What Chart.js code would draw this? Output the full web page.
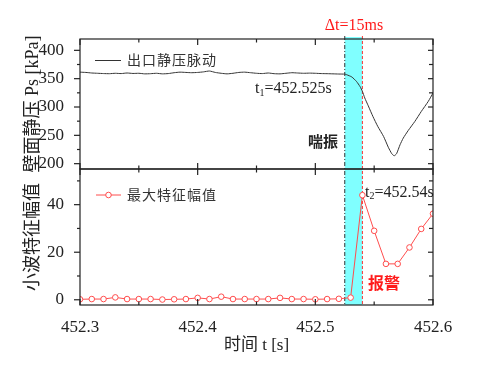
<!DOCTYPE html>
<html>
<head>
    <title>喘振报警</title>
    <script src="https://cdn.jsdelivr.net/npm/chart.js"></script>
    <style>
        body { margin: 0; background: #fff; }
    </style>
</head>
<body>
    <canvas id="surgeChart" width="500" height="367"></canvas>

    <script>
        // wall static pressure (top panel)
        const psTime = [
            452.300, 452.305, 452.310, 452.315, 452.320, 452.325, 452.330, 452.335, 452.340, 452.345,
            452.350, 452.355, 452.360, 452.365, 452.370, 452.375, 452.380, 452.385, 452.390, 452.395,
            452.400, 452.405, 452.410, 452.415, 452.420, 452.425, 452.430, 452.435, 452.440, 452.445,
            452.450, 452.455, 452.460, 452.465, 452.470, 452.475, 452.480, 452.485, 452.490, 452.495,
            452.500, 452.505, 452.510, 452.515, 452.520, 452.525,
            452.5266, 452.531, 452.535, 452.538, 452.540, 452.542, 452.545, 452.549, 452.553, 452.558,
            452.562, 452.5635, 452.565, 452.567, 452.569, 452.572, 452.5747, 452.579, 452.5846, 452.590,
            452.596, 452.600
        ];
        const psValue = [
            361.5, 361.0, 360.0, 359.5, 359.0, 358.8, 359.5, 359.0, 360.0, 359.2,
            359.5, 358.5, 358.8, 359.5, 358.5, 359.0, 360.5, 361.5, 361.0, 360.5,
            361.0, 362.0, 363.5, 361.0, 359.5, 358.5, 359.5, 361.0, 361.5, 360.5,
            359.5, 359.0, 360.0, 358.8, 358.5, 359.5, 360.5, 360.0, 359.5, 359.8,
            359.5, 359.0, 358.8, 358.5, 358.2, 358.0,
            357.0, 353.0, 345.0, 336.0, 327.6, 316.0, 302.0, 283.0, 266.0, 248.0,
            229.0, 223.0, 217.5, 214.0, 217.5, 233.4, 245.0, 258.7, 274.6, 292.0,
            310.0, 324.7
        ];

        // wavelet max feature amplitude (bottom panel)
        const ampTime = [
            452.30, 452.31, 452.32, 452.33, 452.34, 452.35, 452.36, 452.37, 452.38, 452.39,
            452.40, 452.41, 452.42, 452.43, 452.44, 452.45, 452.46, 452.47, 452.48, 452.49,
            452.50, 452.51, 452.52, 452.53, 452.54, 452.55, 452.56, 452.57, 452.58, 452.59,
            452.60
        ];
        const ampValue = [
            0.2, 0.3, 0.3, 1.0, 0.3, 0.3, 0.3, 0.1, 0.2, 0.3,
            0.8, 0.3, 1.3, 0.3, 0.3, 0.3, 0.3, 0.8, 0.3, 0.3,
            0.2, 0.3, 0.4, 0.9, 44.0, 29.0, 15.1, 15.1, 22.0, 29.8,
            36.2
        ];

        const xTicks = [452.3, 452.4, 452.5, 452.6];
        const xMinor = [452.35, 452.45, 452.55];
        const psTicks = [200, 250, 300, 350, 400];
        const psMinor = [225, 275, 325, 375];
        const ampTicks = [0, 20, 40];
        const ampMinor = [10, 30, 50];

        const surgeStart = 452.525;   // t1
        const alarmTime = 452.54;     // t2

        const SERIF = '"Liberation Serif", "Noto Sans CJK SC", serif';
        const CJK = '"Noto Sans CJK SC", sans-serif';
        const INK = '#222';
        const RED = '#ff4d4d';

        function line(ctx, x1, y1, x2, y2) {
            ctx.beginPath();
            ctx.moveTo(x1, y1);
            ctx.lineTo(x2, y2);
            ctx.stroke();
        }

        // draws "t" + subscript + rest
        function subText(ctx, x, y, main, sub, rest, size) {
            ctx.font = size + 'px ' + SERIF;
            ctx.fillText(main, x, y);
            x += ctx.measureText(main).width;
            ctx.font = Math.round(size * 0.62) + 'px ' + SERIF;
            ctx.fillText(sub, x, y + 4);
            x += ctx.measureText(sub).width;
            ctx.font = size + 'px ' + SERIF;
            ctx.fillText(rest, x, y);
        }

        const decorations = {
            id: 'decorations',
            beforeDatasetsDraw(chart) {
                const ctx = chart.ctx;
                const area = chart.chartArea;
                const x = chart.scales.x;
                const x1 = x.getPixelForValue(surgeStart);
                const x2 = x.getPixelForValue(alarmTime);
                ctx.save();
                ctx.fillStyle = '#80ffff';
                ctx.fillRect(x1, area.top - 2, x2 - x1, area.bottom - area.top + 2);
                ctx.lineWidth = 1;
                ctx.strokeStyle = '#333';
                ctx.setLineDash([4, 2, 1, 2]);
                line(ctx, x1, area.top - 3, x1, area.bottom);
                ctx.strokeStyle = '#ff3030';
                ctx.setLineDash([3, 2]);
                line(ctx, x2, area.top - 3, x2, area.bottom);
                ctx.restore();
            },
            afterDatasetsDraw(chart) {
                const ctx = chart.ctx;
                const x = chart.scales.x;
                const panels = [
                    { s: chart.scales.yPs, major: psTicks, minor: psMinor },
                    { s: chart.scales.yAmp, major: ampTicks, minor: ampMinor }
                ];
                const left = chart.chartArea.left;
                const right = chart.chartArea.right;
                ctx.save();
                ctx.strokeStyle = INK;
                ctx.lineWidth = 1.2;
                panels.forEach(p => {
                    const top = p.s.top;
                    const bottom = p.s.bottom;
                    ctx.strokeRect(left, top, right - left, bottom - top);
                    xTicks.forEach(v => {
                        const px = x.getPixelForValue(v);
                        line(ctx, px, top, px, top + 6);
                        line(ctx, px, bottom, px, bottom - 6);
                    });
                    xMinor.forEach(v => {
                        const px = x.getPixelForValue(v);
                        line(ctx, px, top, px, top + 3.5);
                        line(ctx, px, bottom, px, bottom - 3.5);
                    });
                    p.major.forEach(v => {
                        const py = p.s.getPixelForValue(v);
                        line(ctx, left - 6, py, left, py);
                        line(ctx, right - 5, py, right, py);
                    });
                    p.minor.forEach(v => {
                        const py = p.s.getPixelForValue(v);
                        line(ctx, left - 3, py, left, py);
                        line(ctx, right - 4, py, right, py);
                    });
                });

                // legends
                ctx.lineWidth = 1;
                ctx.strokeStyle = '#333';
                line(ctx, 95, 60.5, 121, 60.5);
                ctx.strokeStyle = RED;
                line(ctx, 96, 195, 121, 195);
                ctx.beginPath();
                ctx.arc(108.5, 195, 2.8, 0, Math.PI * 2);
                ctx.fillStyle = '#fff';
                ctx.fill();
                ctx.stroke();

                ctx.textBaseline = 'middle';
                ctx.textAlign = 'left';
                ctx.fillStyle = '#333';
                ctx.font = '14px ' + CJK;
                ctx.letterSpacing = '1px';
                ctx.fillText('出口静压脉动', 127, 60);
                ctx.fillText('最大特征幅值', 127, 195);
                ctx.letterSpacing = '0px';

                // annotations
                ctx.fillStyle = INK;
                subText(ctx, 255, 89, 't', '1', '=452.525s', 16);
                subText(ctx, 365, 192.5, 't', '2', '=452.54s', 16);
                ctx.font = 'bold 15px ' + CJK;
                ctx.fillText('喘振', 308, 141.5);
                ctx.fillStyle = '#ff1a1a';
                ctx.font = 'bold 16px ' + CJK;
                ctx.fillText('报警', 368, 283);
                ctx.textAlign = 'center';
                ctx.font = '16px ' + SERIF;
                ctx.fillText('Δt=15ms', 354, 26);
                ctx.restore();
            }
        };

        function fixedTicks(values) {
            return scale => { scale.ticks = values.map(v => ({ value: v })); };
        }

        const ctx = document.getElementById('surgeChart').getContext('2d');
        new Chart(ctx, {
            type: 'line',
            data: {
                datasets: [
                    {
                        label: '出口静压脉动',
                        data: psTime.map((t, i) => ({ x: t, y: psValue[i] })),
                        yAxisID: 'yPs',
                        borderColor: '#333',
                        borderWidth: 1,
                        pointRadius: 0,
                        tension: 0.2
                    },
                    {
                        label: '最大特征幅值',
                        data: ampTime.map((t, i) => ({ x: t, y: ampValue[i] })),
                        yAxisID: 'yAmp',
                        borderColor: RED,
                        borderWidth: 1,
                        pointRadius: 2.8,
                        pointBackgroundColor: '#fff',
                        pointBorderColor: RED,
                        pointBorderWidth: 1,
                        tension: 0
                    }
                ]
            },
            options: {
                responsive: false,
                animation: false,
                devicePixelRatio: 1,
                layout: { padding: { top: 39, right: 67, left: 0, bottom: 0 } },
                plugins: {
                    legend: { display: false },
                    tooltip: { enabled: false }
                },
                scales: {
                    x: {
                        type: 'linear',
                        min: 452.3,
                        max: 452.6,
                        grid: { display: false },
                        border: { display: false },
                        afterBuildTicks: fixedTicks(xTicks),
                        afterFit: s => { s.height = 62; },
                        ticks: {
                            padding: 4,
                            autoSkip: false,
                            color: INK,
                            font: { family: SERIF, size: 17 },
                            maxRotation: 0,
                            callback: v => v.toFixed(1)
                        },
                        title: {
                            display: true,
                            text: '时间 t [s]',
                            color: INK,
                            font: { family: SERIF, size: 17 },
                            padding: { top: 0, bottom: 11 }
                        }
                    },
                    yAmp: {
                        type: 'linear',
                        position: 'left',
                        stack: 'panels',
                        stackWeight: 136,
                        min: -2.2,
                        max: 55,
                        grid: { display: false },
                        border: { display: false },
                        afterBuildTicks: fixedTicks(ampTicks),
                        afterFit: s => { s.width = 80; },
                        ticks: {
                            padding: 8,
                            autoSkip: false,
                            color: INK,
                            font: { family: SERIF, size: 17 }
                        },
                        title: {
                            display: true,
                            text: '小波特征幅值',
                            color: INK,
                            font: { family: SERIF, size: 18 },
                            padding: { top: 22, bottom: 0 }
                        }
                    },
                    yPs: {
                        type: 'linear',
                        position: 'left',
                        stack: 'panels',
                        stackWeight: 130,
                        min: 190.6,
                        max: 420,
                        grid: { display: false },
                        border: { display: false },
                        afterBuildTicks: fixedTicks(psTicks),
                        afterFit: s => { s.width = 80; },
                        ticks: {
                            padding: 8,
                            autoSkip: false,
                            color: INK,
                            font: { family: SERIF, size: 17 }
                        },
                        title: {
                            display: true,
                            text: '壁面静压 Ps [kPa]',
                            color: INK,
                            font: { family: SERIF, size: 18 },
                            padding: { top: 22, bottom: 0 }
                        }
                    }
                }
            },
            plugins: [decorations]
        });
    </script>
</body>
</html>
